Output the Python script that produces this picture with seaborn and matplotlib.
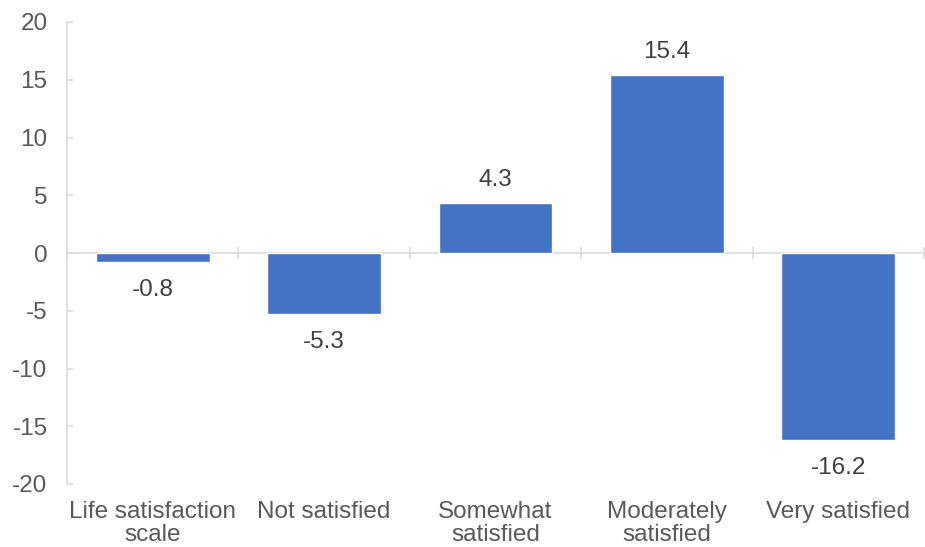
import numpy as np
import pandas as pd
import matplotlib
matplotlib.use("Agg")
import matplotlib.pyplot as plt
import seaborn as sns

categories = ["Life satisfaction\nscale", "Not satisfied", "Somewhat\nsatisfied",
              "Moderately\nsatisfied", "Very satisfied"]
values = [-0.8, -5.3, 4.3, 15.4, -16.2]
y_ticks = [-20, -15, -10, -5, 0, 5, 10, 15, 20]

sns.set_style("white")
plt.rcParams["font.family"] = ["Liberation Sans", "DejaVu Sans"]

df = pd.DataFrame({"category": categories, "value": values})

fig = plt.figure(figsize=(9.25, 5.47), dpi=100)
ax = fig.add_axes([67 / 925, 1 - 484 / 547, (924 - 67) / 925, (484 - 22) / 547])

sns.barplot(data=df, x="category", y="value", color="#4472C4", saturation=1,
            width=0.665, ax=ax, zorder=2)

axis_grey = "#D9D9D9"
fs = 17.5
ax.set_xlim(-0.5, len(categories) - 0.5)
ax.set_ylim(-20, 20)
ax.set_yticks(y_ticks)
ax.set_yticklabels([str(t) for t in y_ticks])

# zero line with category divider ticks
ax.axhline(0, color=axis_grey, lw=1.1, zorder=1)
bounds = np.arange(len(categories) + 1) - 0.5
ax.plot(bounds, np.zeros_like(bounds), ls="none", marker="|", ms=9,
        mew=1.1, color=axis_grey, zorder=1, clip_on=False)

for s in ["top", "right", "bottom"]:
    ax.spines[s].set_visible(False)
ax.spines["left"].set_color(axis_grey)
ax.spines["left"].set_linewidth(1.1)

ax.tick_params(axis="y", direction="in", length=4, width=1.1, color=axis_grey,
               pad=14, labelsize=fs, labelcolor="#595959", left=True)
ax.tick_params(axis="x", length=0, pad=12, labelsize=fs, labelcolor="#595959")
ax.set_xlabel("")
ax.set_ylabel("")
for lbl in ax.get_xticklabels():
    lbl.set_linespacing(1.1)

for i, v in enumerate(values):
    if v >= 0:
        ax.annotate(f"{v:.1f}", (i, v), xytext=(0, 9), textcoords="offset points",
                    ha="center", va="bottom", fontsize=fs, color="#404040")
    else:
        ax.annotate(f"{v:.1f}", (i, v), xytext=(0, -12), textcoords="offset points",
                    ha="center", va="top", fontsize=fs, color="#404040")

fig.savefig("out.png", dpi=100, facecolor="white")
